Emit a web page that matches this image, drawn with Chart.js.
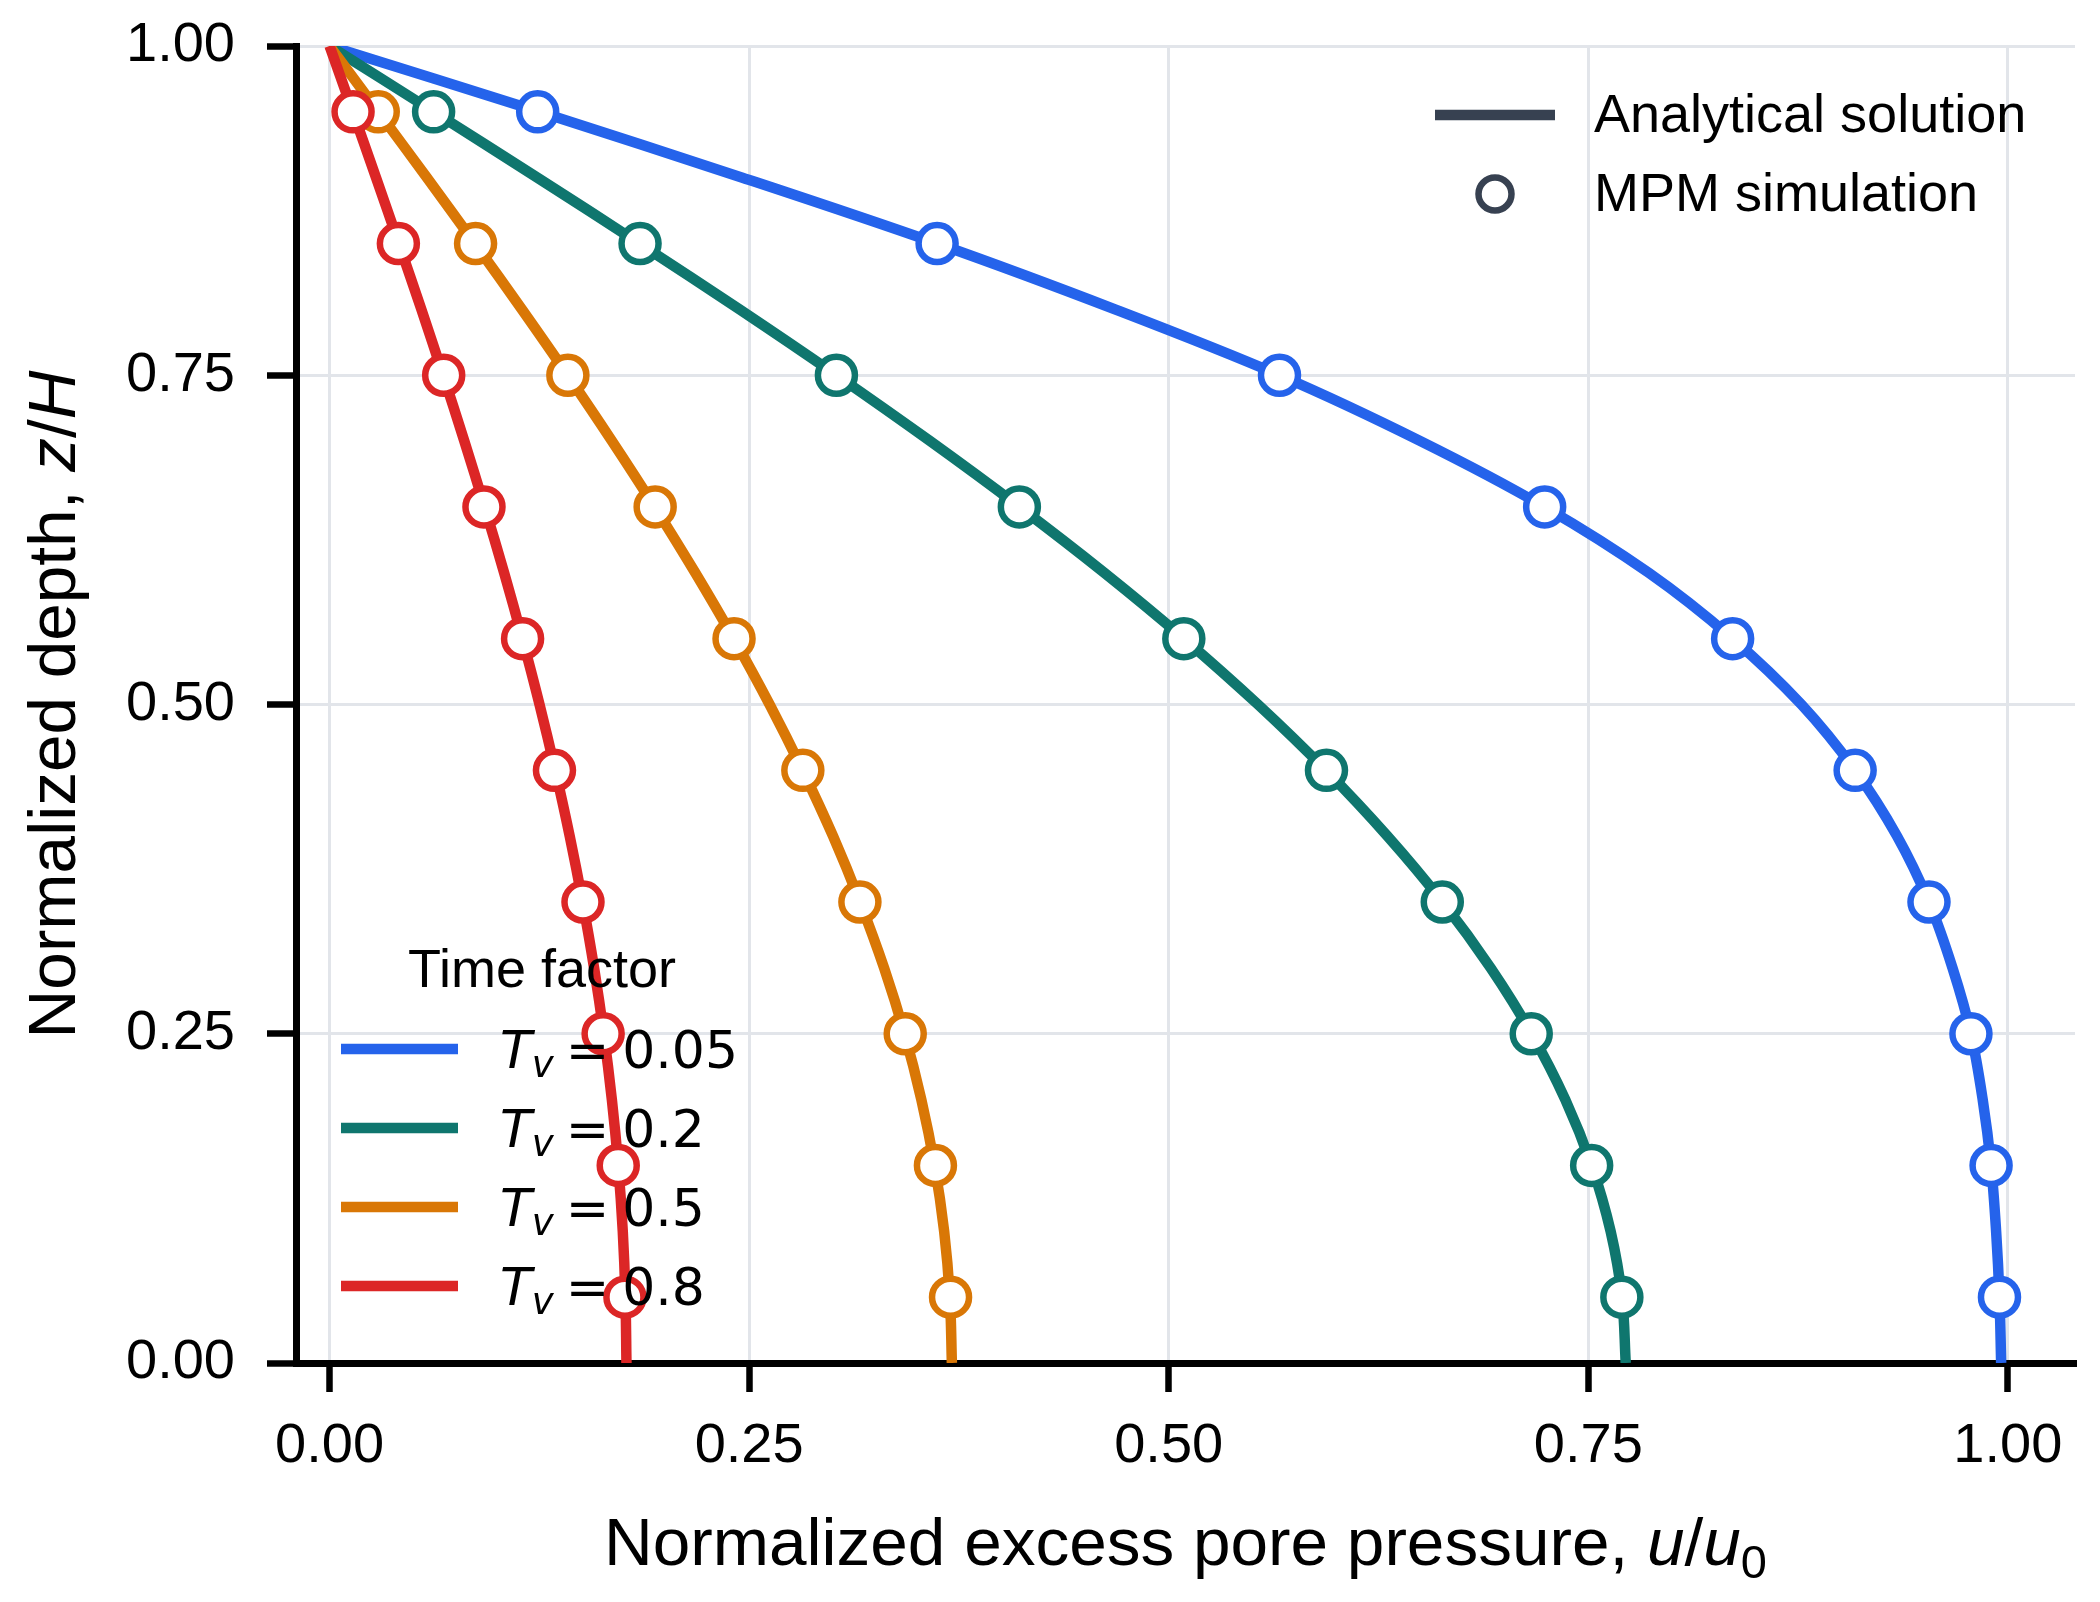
<!DOCTYPE html>
<html><head><meta charset="utf-8">
<script src="https://cdn.jsdelivr.net/npm/chart.js@4.4.1/dist/chart.umd.min.js"></script>
<style>html,body{margin:0;padding:0;background:#fff;}#wrap{width:2100px;height:1602px;}</style>
</head><body><div id="wrap"><canvas id="c" width="2100" height="1602"></canvas></div>
<script>
// ---------- data ----------
const depthLine = [1.00,0.95,0.90,0.85,0.80,0.75,0.70,0.65,0.60,0.55,0.50,0.45,0.40,0.35,0.30,0.25,0.20,0.15,0.10,0.05,0.00];
const analytical_Tv005 = [0,0.125,0.246,0.362,0.468,0.566,0.650,0.724,0.786,0.836,0.877,0.909,0.934,0.953,0.967,0.978,0.985,0.990,0.993,0.995,0.996];
const analytical_Tv02  = [0,0.0622,0.1239,0.1847,0.2443,0.3021,0.3578,0.4111,0.4617,0.5091,0.5532,0.5937,0.6304,0.6632,0.6918,0.7162,0.7363,0.7520,0.7633,0.7701,0.7723];
const analytical_Tv05  = [0,0.0291,0.0580,0.0866,0.1146,0.1419,0.1683,0.1937,0.2179,0.2408,0.2622,0.2819,0.3000,0.3161,0.3304,0.3426,0.3526,0.3605,0.3662,0.3696,0.3708];
const analytical_Tv08  = [0,0.0139,0.0277,0.0413,0.0547,0.0677,0.0803,0.0924,0.1040,0.1149,0.1251,0.1345,0.1431,0.1508,0.1576,0.1634,0.1682,0.1720,0.1747,0.1763,0.1769];

const depthMPM = [0.95,0.85,0.75,0.65,0.55,0.45,0.35,0.25,0.15,0.05];
const mpm_Tv005 = [0.124,0.362,0.566,0.724,0.836,0.909,0.953,0.978,0.990,0.995];
const mpm_Tv02  = [0.062,0.185,0.302,0.411,0.509,0.594,0.663,0.716,0.752,0.770];
const mpm_Tv05  = [0.029,0.087,0.142,0.194,0.241,0.282,0.316,0.343,0.361,0.370];
const mpm_Tv08  = [0.014,0.041,0.068,0.092,0.115,0.134,0.151,0.163,0.172,0.176];

const timeFactors = ['0.05','0.2','0.5','0.8'];
const xTicks = [0,0.25,0.5,0.75,1.0];
const yTicks = [0,0.25,0.5,0.75,1.0];

// ---------- styles ----------
const seriesColors = ['#2563EB','#0F766E','#D97706','#DC2626'];
const legendGray = '#374151';
const analyticalSets = [analytical_Tv005, analytical_Tv02, analytical_Tv05, analytical_Tv08];
const mpmSets = [mpm_Tv005, mpm_Tv02, mpm_Tv05, mpm_Tv08];

const datasets = [];
analyticalSets.forEach((vals, i) => {
  datasets.push({
    label: 'Analytical Tv=' + timeFactors[i],
    data: depthLine.map((z, k) => ({x: vals[k], y: z})),
    borderColor: seriesColors[i], borderWidth: 10.5,
    pointRadius: 0, tension: 0.35, fill: false,
    order: 8 - i
  });
});
mpmSets.forEach((vals, i) => {
  datasets.push({
    label: 'MPM Tv=' + timeFactors[i],
    data: depthMPM.map((z, k) => ({x: vals[k], y: z})),
    showLine: false,
    pointRadius: 18.5, pointBorderWidth: 6.5,
    pointBackgroundColor: '#ffffff', pointBorderColor: seriesColors[i],
    borderColor: seriesColors[i], backgroundColor: '#ffffff',
    order: 4 - i
  });
});

const SANS = '"Liberation Sans", Arial, sans-serif';
const DJ = '"DejaVu Sans", sans-serif';

function drawParts(ctx, parts, x, y, align) {
  let total = 0;
  parts.forEach(p => { ctx.font = p.font; p.w = ctx.measureText(p.t).width; total += p.w + (p.gap || 0); });
  let cx = align === 'center' ? x - total / 2 : x;
  parts.forEach(p => { ctx.font = p.font; ctx.fillText(p.t, cx, y + (p.dy || 0)); cx += p.w + (p.gap || 0); });
}

const annotations = {
  id: 'annotations',
  afterDraw(chart) {
    const ctx = chart.ctx;
    ctx.save();
    ctx.fillStyle = '#000';
    ctx.textAlign = 'left';
    ctx.textBaseline = 'alphabetic';
    const area = chart.chartArea;
    // x title
    drawParts(ctx, [
      {t: 'Normalized excess pore pressure, ', font: '67.5px ' + SANS},
      {t: 'u', font: 'italic 67.5px ' + SANS},
      {t: '/', font: '67.5px ' + SANS},
      {t: 'u', font: 'italic 67.5px ' + SANS},
      {t: '0', font: '47px ' + SANS, dy: 13}
    ], (area.left + area.right) / 2, 1565, 'center');
    // y title
    ctx.save();
    ctx.translate(75, (area.top + area.bottom) / 2);
    ctx.rotate(-Math.PI / 2);
    drawParts(ctx, [
      {t: 'Normalized depth, ', font: '67.5px ' + SANS},
      {t: 'z', font: 'italic 67.5px ' + SANS},
      {t: '/', font: '67.5px ' + SANS},
      {t: 'H', font: 'italic 67.5px ' + SANS}
    ], 0, 0, 'center');
    ctx.restore();

    // top-right legend
    ctx.lineCap = 'butt';
    ctx.strokeStyle = legendGray;
    ctx.lineWidth = 10.5;
    ctx.beginPath(); ctx.moveTo(1435, 115); ctx.lineTo(1555, 115); ctx.stroke();
    ctx.lineWidth = 6.5;
    ctx.fillStyle = '#fff';
    ctx.beginPath(); ctx.arc(1495, 194, 16.5, 0, Math.PI * 2); ctx.fill(); ctx.stroke();
    ctx.fillStyle = '#000';
    ctx.font = '54px ' + SANS;
    ctx.textBaseline = 'middle';
    ctx.fillText('Analytical solution', 1594, 117);
    ctx.fillText('MPM simulation', 1594, 196);

    // bottom-left legend (Time factor)
    ctx.textAlign = 'center';
    ctx.fillText('Time factor', 542, 972);
    ctx.textAlign = 'left';
    ctx.textBaseline = 'alphabetic';
    const rowY = [1049, 1128, 1207, 1286];
    timeFactors.forEach((tf, i) => {
      const y = rowY[i];
      ctx.strokeStyle = seriesColors[i];
      ctx.lineWidth = 10.5;
      ctx.beginPath(); ctx.moveTo(341, y); ctx.lineTo(458, y); ctx.stroke();
      ctx.fillStyle = '#000';
      const base = y + 19;
      drawParts(ctx, [
        {t: 'T', font: 'italic 52px ' + DJ},
        {t: 'v', font: 'italic 37px ' + DJ, dy: 9, gap: 12},
        {t: '=', font: '52px ' + DJ, gap: 13},
        {t: tf, font: '52px ' + DJ}
      ], 500, base, 'left');
    });
    ctx.restore();
  }
};

const tickFont = {family: 'Liberation Sans', size: 56};
new Chart(document.getElementById('c'), {
  type: 'line',
  data: {datasets},
  options: {
    responsive: false, animation: false, devicePixelRatio: 1,
    layout: {padding: {left: 0, top: 46, right: 25, bottom: 0}},
    plugins: {legend: {display: false}, tooltip: {enabled: false}},
    scales: {
      x: {
        type: 'linear', min: -0.02, max: 1.04,
        afterBuildTicks: s => { s.ticks = xTicks.map(v => ({value: v})); },
        afterFit: s => { s.height = 239; s.paddingLeft = 0; s.paddingRight = 0; },
        grid: {color: '#E2E5EA', lineWidth: 3, tickLength: 29, tickColor: '#000', tickWidth: 6.5},
        border: {color: '#000', width: 7},
        ticks: {font: tickFont, color: '#000', padding: 21, maxRotation: 0, autoSkip: false, callback: v => Number(v).toFixed(2)}
      },
      y: {
        type: 'linear', min: 0, max: 1,
        afterBuildTicks: s => { s.ticks = yTicks.map(v => ({value: v})); },
        afterFit: s => { s.width = 296; s.paddingTop = 0; s.paddingBottom = 0; },
        grid: {color: '#E2E5EA', lineWidth: 3, tickLength: 29, tickColor: '#000', tickWidth: 6.5},
        border: {color: '#000', width: 7},
        ticks: {font: tickFont, color: '#000', padding: 32, autoSkip: false, callback: v => Number(v).toFixed(2)}
      }
    }
  },
  plugins: [annotations]
});
</script></body></html>
